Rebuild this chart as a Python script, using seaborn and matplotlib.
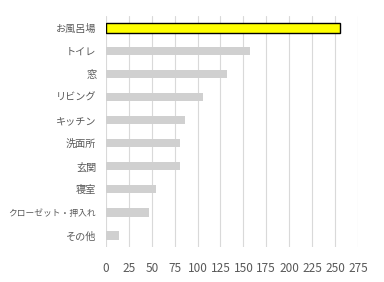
import matplotlib
matplotlib.use("Agg")
import matplotlib.pyplot as plt
import seaborn as sns
import pandas as pd

categories = ["お風呂場", "トイレ", "窓", "リビング", "キッチン", "洗面所", "玄関", "寝室", "クローゼット・押入れ", "その他"]
values = [256, 157, 132, 106, 86, 81, 81, 55, 47, 14]
xticks = [0, 25, 50, 75, 100, 125, 150, 175, 200, 225, 250, 275]

sns.set_style("white")
plt.rcParams['font.family'] = ['Noto Sans CJK JP', 'DejaVu Sans']

df = pd.DataFrame({"cat": categories, "val": values})
df["grp"] = ["hi"] + ["lo"] * (len(categories) - 1)

fig = plt.figure(figsize=(3.84, 2.82), dpi=100)
ax = fig.add_axes([0.276, 0.124, 0.656, 0.819])

sns.barplot(data=df, x="val", y="cat", hue="grp", palette={"hi": "#ffff00", "lo": "#d0d0d0"},
            dodge=False, legend=False, ax=ax, width=0.36, orient="h", saturation=1)

for p in ax.patches:
    if p.get_facecolor()[2] < 0.5 and p.get_facecolor()[0] > 0.9:
        p.set_edgecolor("black")
        p.set_linewidth(1.0)
        y = p.get_y(); h = p.get_height()
        p.set_height(h * 1.2); p.set_y(y - h * 0.1)
    else:
        p.set_edgecolor("none")

ax.set_xlim(0, 275)
ax.set_xticks(xticks)
ax.set_xticklabels([str(t) for t in xticks])
ax.set_ylim(len(categories) - 0.5, -0.5)
ax.grid(axis="x", color="#d9d9d9", linewidth=0.8)
ax.set_axisbelow(True)
for s in ax.spines.values():
    s.set_visible(False)
ax.set_xlabel("")
ax.set_ylabel("")
ax.tick_params(axis="x", length=0, pad=11, labelsize=8.5, labelcolor="#595959")
ax.tick_params(axis="y", length=0, pad=7, labelsize=7.3, labelcolor="#595959")
for lbl in ax.get_yticklabels():
    if len(lbl.get_text()) > 6:
        lbl.set_fontsize(6.3)

fig.savefig("out.png", dpi=100)
